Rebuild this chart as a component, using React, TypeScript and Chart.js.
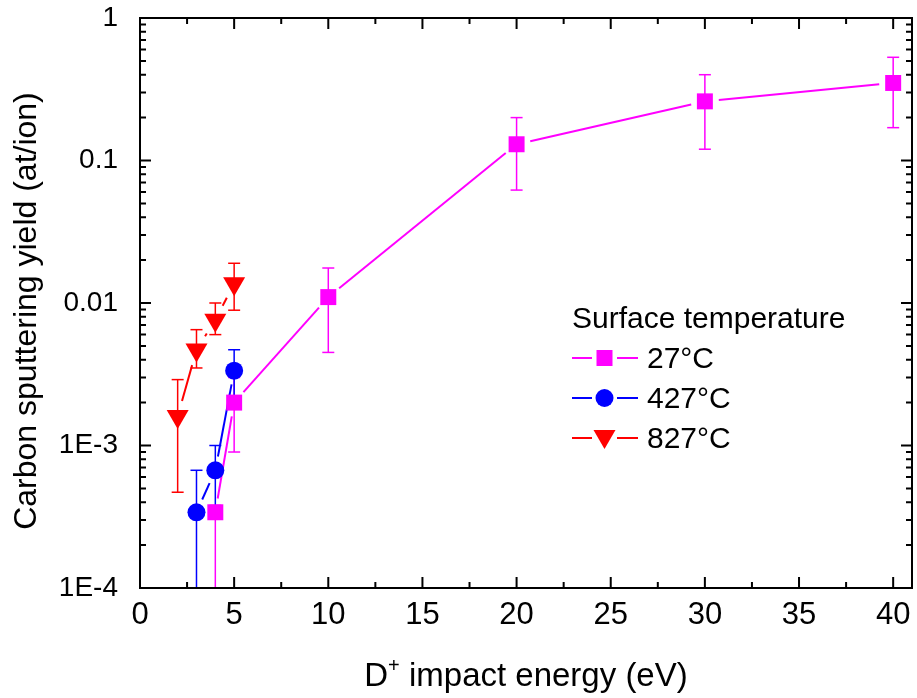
import React, { useEffect, useRef } from 'react';
import { Chart, registerables } from 'chart.js';

Chart.register(...registerables);

// ---- data ----
const energy27 = [4, 5, 10, 20, 30, 40];
const yield27 = [3.4e-4, 2.0e-3, 0.011, 0.13, 0.26, 0.35];
const low27 = [1e-5, 9.0e-4, 0.0045, 0.062, 0.12, 0.17];
const high27 = [3.8e-4, 3.0e-3, 0.0176, 0.2, 0.4, 0.53];

const energy427 = [3, 4, 5];
const yield427 = [3.4e-4, 6.7e-4, 3.35e-3];
const low427 = [1e-5, 3.4e-4, 2.0e-3];
const high427 = [6.7e-4, 1.0e-3, 4.7e-3];

const energy827 = [2, 3, 4, 5];
const yield827 = [1.6e-3, 4.7e-3, 7.6e-3, 0.0137];
const low827 = [4.7e-4, 3.5e-3, 6.0e-3, 8.9e-3];
const high827 = [2.9e-3, 6.5e-3, 0.01, 0.019];

const seriesLabels = ['27°C', '427°C', '827°C'];
const seriesColors = ['#ff00ff', '#0000ff', '#ff0000'];
const legendTitle = 'Surface temperature';
const xTitleMain = 'D';
const xTitleSup = '+';
const xTitleRest = ' impact energy (eV)';
const yTitle = 'Carbon sputtering yield (at/ion)';
const yTickValues = [1e-4, 1e-3, 0.01, 0.1, 1];
const yTickLabels = ['1E-4', '1E-3', '0.01', '0.1', '1'];
const xMin = 0;
const xMax = 41;
const xMajorStep = 5;
const xMinorStep = 2.5;

const FONT = "'Liberation Sans', Arial, sans-serif";
const lineGaps = [14, 14, 16];

const toPoints = (xs: number[], ys: number[]) => xs.map((x, i) => ({ x, y: ys[i] }));

const errorSets = [
  { xs: energy27, lo: low27, hi: high27 },
  { xs: energy427, lo: low427, hi: high427 },
  { xs: energy827, lo: low827, hi: high827 },
];

const overlayPlugin = {
  id: 'overlay',
  beforeDatasetsDraw(chart: any) {
    const { ctx, chartArea: ca } = chart;
    const xs = chart.scales.x;
    const ys = chart.scales.y;
    ctx.save();
    ctx.beginPath();
    ctx.rect(ca.left, ca.top, ca.right - ca.left, ca.bottom - ca.top);
    ctx.clip();
    // error bars
    ctx.lineWidth = 1.5;
    errorSets.forEach((s, si) => {
      ctx.strokeStyle = seriesColors[si];
      s.xs.forEach((xv, i) => {
        const px = xs.getPixelForValue(xv);
        const yHi = ys.getPixelForValue(s.hi[i]);
        const yLo = ys.getPixelForValue(s.lo[i]);
        ctx.beginPath();
        ctx.moveTo(px, Math.min(yLo, ca.bottom + 2));
        ctx.lineTo(px, yHi);
        ctx.stroke();
        const cap = 6;
        [yHi, yLo].forEach((yy) => {
          if (yy >= ca.top && yy <= ca.bottom) {
            ctx.beginPath();
            ctx.moveTo(px - cap, yy);
            ctx.lineTo(px + cap, yy);
            ctx.stroke();
          }
        });
      });
    });
    // connecting lines with gaps around the symbols
    ctx.lineWidth = 2;
    chart.data.datasets.forEach((_ds: any, di: number) => {
      const meta = chart.getDatasetMeta(di);
      const pts = meta.data;
      ctx.strokeStyle = seriesColors[di];
      const gap = lineGaps[di];
      for (let i = 0; i < pts.length - 1; i++) {
        const a = pts[i];
        const b = pts[i + 1];
        const dx = b.x - a.x;
        const dy = b.y - a.y;
        const len = Math.hypot(dx, dy);
        if (len <= gap * 2) continue;
        const ux = dx / len;
        const uy = dy / len;
        ctx.beginPath();
        ctx.moveTo(a.x + ux * gap, a.y + uy * gap);
        ctx.lineTo(b.x - ux * gap, b.y - uy * gap);
        ctx.stroke();
      }
    });
    ctx.restore();
  },
  afterDraw(chart: any) {
    const { ctx, chartArea: ca } = chart;
    const xs = chart.scales.x;
    const ys = chart.scales.y;
    ctx.save();
    ctx.strokeStyle = '#000';
    ctx.lineWidth = 2;
    // frame
    ctx.strokeRect(ca.left, ca.top, ca.right - ca.left, ca.bottom - ca.top);
    // x ticks (bottom & top, inward)
    for (let v = xMin; v <= xMax + 1e-9; v += xMinorStep) {
      const px = xs.getPixelForValue(v);
      const major = Math.abs(v / xMajorStep - Math.round(v / xMajorStep)) < 1e-9;
      const len = major ? 11 : 6;
      ctx.beginPath();
      ctx.moveTo(px, ca.bottom);
      ctx.lineTo(px, ca.bottom - len);
      ctx.moveTo(px, ca.top);
      ctx.lineTo(px, ca.top + len);
      ctx.stroke();
    }
    // y ticks (left & right, inward)
    for (let d = -4; d <= 0; d++) {
      for (let m = 1; m <= 9; m++) {
        const v = m * Math.pow(10, d);
        if (v > 1.0000001) break;
        const py = ys.getPixelForValue(v);
        const len = m === 1 ? 11 : 6;
        ctx.beginPath();
        ctx.moveTo(ca.left, py);
        ctx.lineTo(ca.left + len, py);
        ctx.moveTo(ca.right, py);
        ctx.lineTo(ca.right - len, py);
        ctx.stroke();
      }
    }
    // axis titles
    ctx.fillStyle = '#000';
    const tf = 33;
    ctx.font = `${tf}px ${FONT}`;
    const wMain = ctx.measureText(xTitleMain).width;
    const wRest = ctx.measureText(xTitleRest).width;
    ctx.font = `${Math.round(tf * 0.6)}px ${FONT}`;
    const wSup = ctx.measureText(xTitleSup).width;
    const total = wMain + wSup + wRest;
    const cx = (ca.left + ca.right) / 2;
    const x0 = cx - total / 2;
    const base = 686;
    ctx.textAlign = 'left';
    ctx.textBaseline = 'alphabetic';
    ctx.font = `${tf}px ${FONT}`;
    ctx.fillText(xTitleMain, x0, base);
    ctx.font = `${Math.round(tf * 0.6)}px ${FONT}`;
    ctx.fillText(xTitleSup, x0 + wMain, base - tf * 0.42);
    ctx.font = `${tf}px ${FONT}`;
    ctx.fillText(xTitleRest, x0 + wMain + wSup, base);

    ctx.save();
    ctx.font = `32px ${FONT}`;
    ctx.translate(36, (ca.top + ca.bottom) / 2 + 8);
    ctx.rotate(-Math.PI / 2);
    ctx.textAlign = 'center';
    ctx.fillText(yTitle, 0, 0);
    ctx.restore();

    // legend
    const lx = ca.left + 432;
    const ly = ca.top + 310;
    ctx.font = `30px ${FONT}`;
    ctx.textAlign = 'left';
    ctx.fillText(legendTitle, lx, ly);
    const shapes = ['rect', 'circle', 'tri'];
    seriesLabels.forEach((lab, i) => {
      const cy = ly + 30 + i * 40;
      ctx.strokeStyle = seriesColors[i];
      ctx.fillStyle = seriesColors[i];
      ctx.lineWidth = 2;
      ctx.beginPath();
      ctx.moveTo(lx, cy);
      ctx.lineTo(lx + 20, cy);
      ctx.moveTo(lx + 45, cy);
      ctx.lineTo(lx + 66, cy);
      ctx.stroke();
      const mx = lx + 32.5;
      ctx.beginPath();
      if (shapes[i] === 'rect') {
        ctx.rect(mx - 8, cy - 8, 16, 16);
      } else if (shapes[i] === 'circle') {
        ctx.arc(mx, cy, 9, 0, Math.PI * 2);
      } else {
        ctx.moveTo(mx - 11, cy - 8);
        ctx.lineTo(mx + 11, cy - 8);
        ctx.lineTo(mx, cy + 11);
        ctx.closePath();
      }
      ctx.fill();
      ctx.fillStyle = '#000';
      ctx.fillText(lab, lx + 75, cy + 10);
    });
    ctx.restore();
  },
};

export default function App() {
  const ref = useRef<HTMLCanvasElement | null>(null);
  useEffect(() => {
    if (!ref.current) return;
    const chart = new Chart(ref.current, {
      type: 'line',
      data: {
        datasets: [
          {
            label: seriesLabels[0],
            data: toPoints(energy27, yield27),
            borderColor: seriesColors[0],
            backgroundColor: seriesColors[0],
            borderWidth: 2,
            showLine: false,
            pointStyle: 'rect',
            pointRadius: 11.3,
            pointBorderWidth: 0,
          },
          {
            label: seriesLabels[1],
            data: toPoints(energy427, yield427),
            borderColor: seriesColors[1],
            backgroundColor: seriesColors[1],
            borderWidth: 2,
            showLine: false,
            pointStyle: 'circle',
            pointRadius: 9,
            pointBorderWidth: 0,
          },
          {
            label: seriesLabels[2],
            data: toPoints(energy827, yield827),
            borderColor: seriesColors[2],
            backgroundColor: seriesColors[2],
            borderWidth: 2,
            showLine: false,
            pointStyle: 'triangle',
            pointRotation: 180,
            pointRadius: 12.7,
            pointBorderWidth: 0,
          },
        ],
      },
      options: {
        responsive: false,
        animation: false,
        devicePixelRatio: 1,
        layout: { autoPadding: false, padding: { top: 18, right: 5, left: 0, bottom: 0 } },
        plugins: { legend: { display: false }, tooltip: { enabled: false } },
        scales: {
          x: {
            type: 'linear',
            min: xMin,
            max: xMax,
            grid: { display: false },
            border: { display: false },
            ticks: {
              stepSize: xMajorStep,
              includeBounds: false,
              autoSkip: false,
              maxRotation: 0,
              padding: 1,
              color: '#000',
              font: { family: FONT, size: 31 },
            },
            afterFit: (s: any) => {
              s.height = 110;
              s.paddingLeft = 0;
              s.paddingRight = 0;
            },
          },
          y: {
            type: 'logarithmic',
            min: 1e-4,
            max: 1,
            grid: { display: false },
            border: { display: false },
            ticks: {
              autoSkip: false,
              padding: 14,
              color: '#000',
              font: { family: FONT, size: 28 },
              callback: (value: any) => {
                const v = Number(value);
                const i = yTickValues.findIndex((t) => Math.abs(Math.log10(t) - Math.log10(v)) < 1e-6);
                return i >= 0 ? yTickLabels[i] : '';
              },
            },
            afterFit: (s: any) => {
              s.width = 140;
              s.paddingTop = 0;
              s.paddingBottom = 0;
            },
          },
        },
      },
      plugins: [overlayPlugin],
    } as any);
    return () => chart.destroy();
  }, []);
  return (
    <div style={{ position: 'absolute', left: 0, top: 0, width: 917, height: 698 }}>
      <canvas ref={ref} width={917} height={698} />
    </div>
  );
}
